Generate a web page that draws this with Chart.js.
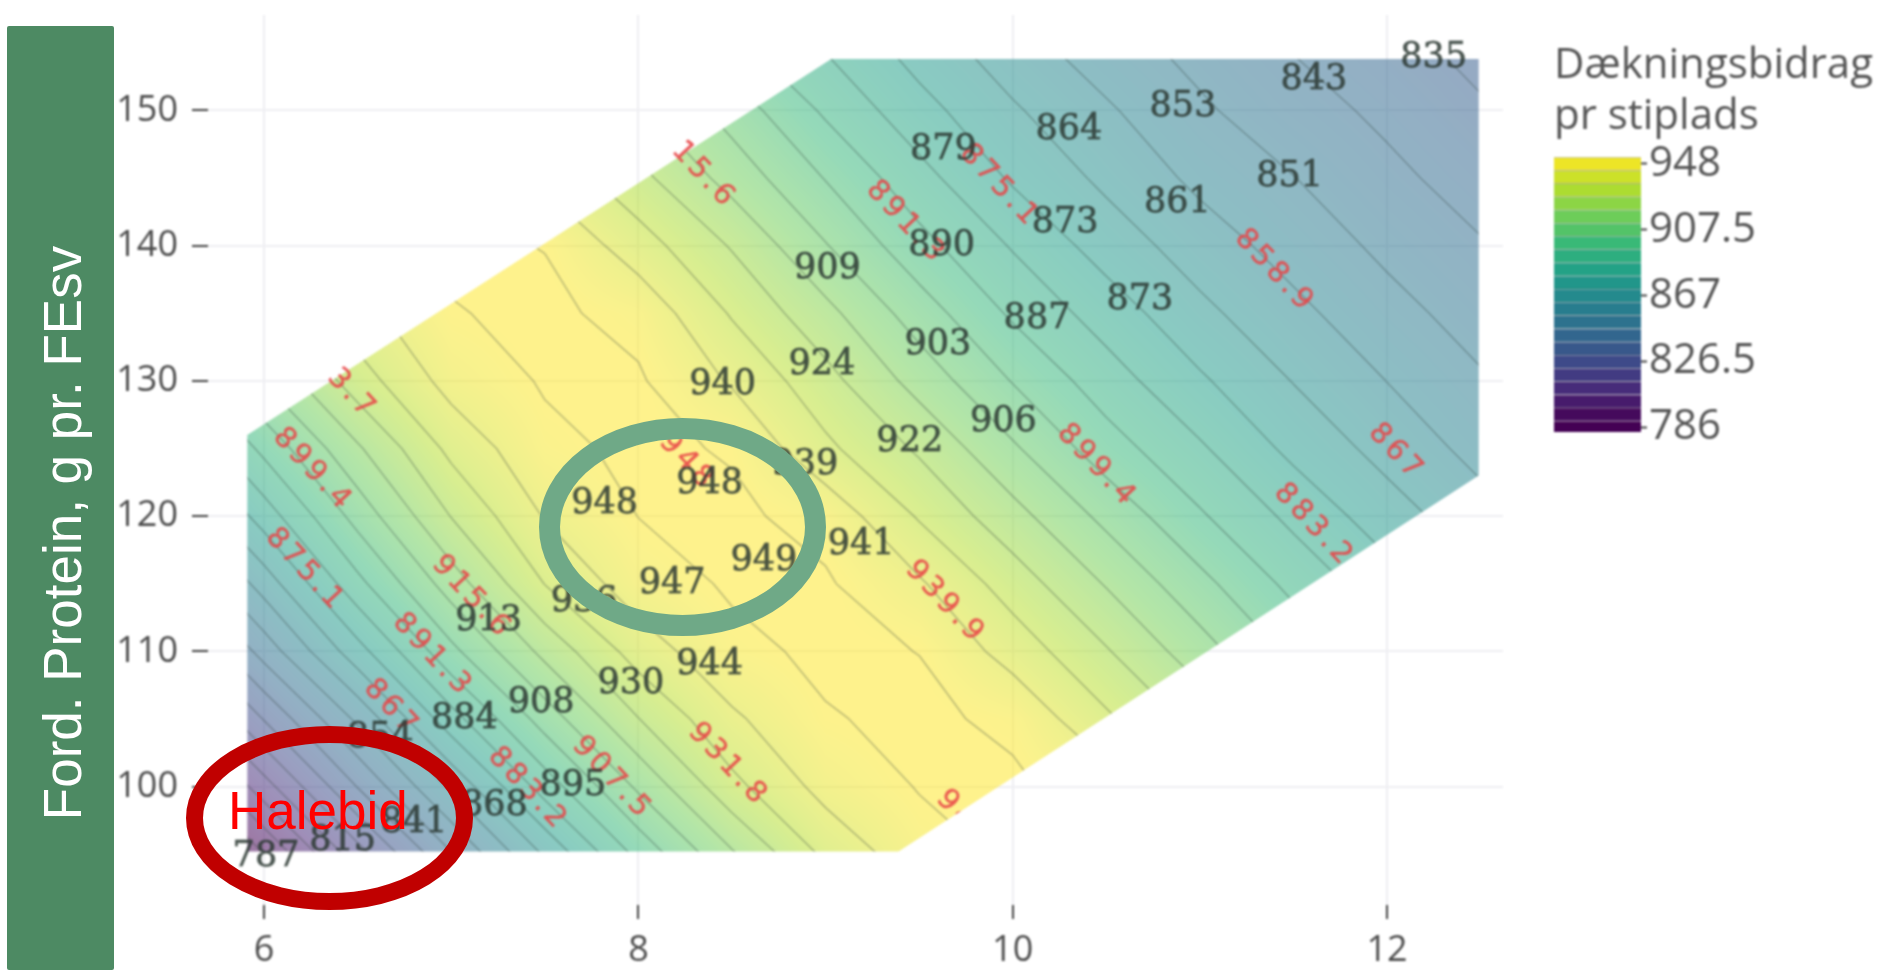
<!DOCTYPE html>
<html>
<head>
<meta charset="utf-8">
<title>Dækningsbidrag pr stiplads</title>
<script src="https://cdn.jsdelivr.net/npm/chart.js@4"></script>
<style>
  html, body { margin: 0; padding: 0; background: #fff; width: 1883px; height: 970px; overflow: hidden; }
  canvas { position: absolute; filter: blur(0.8px); }
  #mainWrap { position: absolute; left: 0; top: 0; width: 1883px; height: 970px; }
  #barWrap { position: absolute; left: 1550px; top: 0; width: 333px; height: 450px; }
  #sideBox { position: absolute; left: 7px; top: 26px; width: 107px; height: 944px; background: #4d8a63; border-radius: 2px; }
  #sideText { position: absolute; left: 62px; top: 533px; transform: translate(-50%, -50%) rotate(-90deg); white-space: nowrap;
    color: #fff; font: 53px "Liberation Sans", sans-serif; }
  #rings { position: absolute; left: 0; top: 0; }
  #halebid { position: absolute; left: 228px; top: 781px; color: #ff0000; font: 53px/60px "Liberation Sans", sans-serif; }
</style>
</head>
<body>
<div id="mainWrap"><canvas id="mainChart"></canvas></div>
<div id="barWrap"><canvas id="barChart"></canvas></div>
<div id="sideBox"></div>
<div id="sideText">Ford. Protein, g pr. FEsv</div>
<svg id="rings" width="1883" height="970">
  <ellipse cx="682.5" cy="527" rx="133" ry="98.5" fill="none" stroke="#6fa987" stroke-width="21"/>
  <ellipse cx="329.5" cy="818" rx="135" ry="83.5" fill="none" stroke="#c00000" stroke-width="17"/>
</svg>
<div id="halebid">Halebid</div>

<script>
// Akser
const xTicks = [6, 8, 10, 12];
const yTicks = [100, 110, 120, 130, 140, 150];
const barTicks = [786, 826.5, 867, 907.5, 948];

// Niveauer for konturlinjer
const levels = [786, 794.1, 802.2, 810.3, 818.4, 826.5, 834.6, 842.7, 850.8, 858.9, 867,
  875.1, 883.2, 891.3, 899.4, 907.5, 915.6, 923.7, 931.8, 939.9, 948];

// Omrids af det farvede felt
const hullX = [5.91, 9.03, 12.49, 12.49, 9.39, 5.91];
const hullY = [126.0, 153.8, 153.8, 123.0, 95.2, 95.2];

// Aflaest gitter: kolonner, raekker og vaerdier
const gridX = [5.5, 6, 6.5, 7, 7.5, 8, 8.5, 9, 9.5, 10, 10.5, 11, 11.5, 12, 12.5];
const gridY = [155, 150, 145, 140, 135, 130, 125, 120, 115, 110, 105, 100, 95];
const gridZ = [
  [948.2, 949.4, 945, 930.5, 919, 906, 893, 882, 871, 862, 854, 848, 842, 837, 832],
  [944.5, 949, 948.8, 940, 928, 917, 904, 890, 878, 868, 860, 852, 846, 841, 835.5],
  [933.6, 945.7, 949.2, 948.4, 938, 926, 912.5, 899, 886, 874, 865.2, 857, 851, 844.6, 839.3],
  [918, 935.5, 946.2, 949.4, 947.8, 935.5, 923, 908, 894, 882.5, 871.5, 863, 855.7, 849, 843.3],
  [902.5, 923, 937, 947.6, 949.5, 945.7, 931, 918, 903.5, 890, 879.5, 869, 861, 853.6, 847.4],
  [886, 908, 928, 943, 948.7, 948.9, 939, 926.5, 912.5, 899, 887, 876.3, 866.7, 858.8, 851.7],
  [871, 893.5, 914.5, 934, 946.2, 949.5, 947.4, 933.5, 922.5, 908.7, 895, 884.3, 873, 864.2, 856.3],
  [854.5, 879, 902.5, 924, 940.5, 948.1, 949.4, 945.5, 931, 918.5, 905.3, 892.3, 881.2, 870.7, 862],
  [838, 862.5, 889, 911.5, 932, 944.4, 948.9, 948.9, 941, 928, 915, 901.8, 889, 878.4, 868],
  [819, 846, 872, 897.3, 918, 935.5, 946.2, 949.4, 947.9, 936.6, 924.4, 911, 897.5, 886, 875],
  [799, 827, 852.5, 880, 903, 923.5, 938.5, 947.5, 949.5, 946.5, 933.2, 921, 907.5, 894, 883],
  [778, 807, 835, 860.5, 887, 909, 929.5, 942.8, 948.4, 949.3, 944, 930, 917, 903.8, 890.8],
  [757, 786, 815, 842, 868, 893.5, 914.5, 933.5, 945, 949.2, 948.6, 939, 927, 913.5, 899.5]
];

// Datapunkter med vaerdi
const pointX = [12.25, 11.61, 10.91, 10.30, 9.63, 11.48, 10.88, 10.28, 9.62, 9.01, 10.68, 10.13, 9.60, 8.98, 8.45,
  9.95, 9.45, 8.89, 8.38, 7.82, 9.19, 8.67, 8.18, 7.71, 7.20, 8.38, 7.96, 7.48, 7.07, 6.62, 7.65, 7.23, 6.80, 6.42, 6.01];
const pointY = [154.1, 152.5, 150.5, 148.8, 147.3, 145.3, 143.4, 141.9, 140.2, 138.5, 136.2, 134.8, 132.9, 131.4, 129.9,
  127.2, 125.7, 124.0, 122.6, 121.1, 118.1, 116.9, 115.2, 113.9, 112.5, 109.2, 107.8, 106.4, 105.2, 103.8, 100.3, 98.8, 97.5, 96.2, 95.0];
const pointValue = [835, 843, 853, 864, 879, 851, 861, 873, 890, 909, 873, 887, 903, 924, 940,
  906, 922, 939, 948, 948, 941, 949, 947, 936, 913, 944, 930, 908, 884, 854, 895, 868, 841, 815, 787];

// Roede niveau-etiketter
const levelText = ['15.6', '3.7', '899.4', '875.1', '915.6', '891.3', '867', '883.2', '907.5', '931.8',
  '948', '939.9', '948', '899.4', '891.3', '875.1', '858.9', '883.2', '867'];
const levelX = [8.35, 6.47, 6.26, 6.22, 7.11, 6.90, 6.68, 7.41, 7.86, 8.48, 9.74, 9.64, 8.26, 10.45, 9.43, 9.93, 11.40, 11.61, 12.05];
const levelY = [145.2, 129.0, 123.4, 116.0, 114.0, 109.7, 105.8, 99.8, 100.6, 101.6, 97.6, 113.6, 124.0, 123.7, 141.7, 144.4, 138.1, 119.3, 124.7];
// Denne etiket skaeres af ved feltets kant
const cutLabel = 10;

const viridis = [[68,1,84],[72,40,120],[62,73,137],[49,104,142],[38,130,142],[31,158,137],[53,183,121],[110,206,88],[181,222,43],[253,231,37]];

function viridisAt(z) {
  const t = Math.min(1, Math.max(0, (z - 786) / (948 - 786))) * (viridis.length - 1);
  const i = Math.min(viridis.length - 2, Math.floor(t));
  const f = t - i;
  return viridis[i].map((c, k) => c + (viridis[i + 1][k] - c) * f);
}

// Vaerdi i et punkt, laest direkte af gitteret
function zAt(x, y) {
  let i = 0, j = 0;
  while (i < gridX.length - 2 && x > gridX[i + 1]) i++;
  while (j < gridY.length - 2 && y < gridY[j + 1]) j++;
  const fx = (x - gridX[i]) / (gridX[i + 1] - gridX[i]);
  const fy = (y - gridY[j]) / (gridY[j + 1] - gridY[j]);
  const top = gridZ[j][i] * (1 - fx) + gridZ[j][i + 1] * fx;
  const bot = gridZ[j + 1][i] * (1 - fx) + gridZ[j + 1][i + 1] * fx;
  return top * (1 - fy) + bot * fy;
}

// Konturlinje for et niveau, celle for celle gennem gitteret
function contourPoints(level) {
  const out = [];
  for (let j = 0; j < gridY.length - 1; j++) {
    for (let i = 0; i < gridX.length - 1; i++) {
      const corners = [
        [gridX[i], gridY[j], gridZ[j][i]],
        [gridX[i + 1], gridY[j], gridZ[j][i + 1]],
        [gridX[i + 1], gridY[j + 1], gridZ[j + 1][i + 1]],
        [gridX[i], gridY[j + 1], gridZ[j + 1][i]]
      ];
      const hits = [];
      for (let k = 0; k < 4; k++) {
        const a = corners[k], b = corners[(k + 1) % 4];
        if ((a[2] >= level) !== (b[2] >= level)) {
          const f = (level - a[2]) / (b[2] - a[2]);
          hits.push({ x: a[0] + (b[0] - a[0]) * f, y: a[1] + (b[1] - a[1]) * f });
        }
      }
      for (let k = 0; k + 1 < hits.length; k += 2) {
        out.push(hits[k], hits[k + 1], { x: NaN, y: NaN });
      }
    }
  }
  return out;
}

function hullPath(ctx, chart) {
  ctx.beginPath();
  hullX.forEach((x, i) => {
    const px = chart.scales.x.getPixelForValue(x);
    const py = chart.scales.y.getPixelForValue(hullY[i]);
    if (i === 0) ctx.moveTo(px, py); else ctx.lineTo(px, py);
  });
  ctx.closePath();
}

let fieldImage = null;

function buildField(chart) {
  const area = chart.chartArea;
  const w = Math.ceil(area.right - area.left), h = Math.ceil(area.bottom - area.top);
  const off = document.createElement('canvas');
  off.width = w;
  off.height = h;
  const octx = off.getContext('2d');
  const img = octx.createImageData(w, h);
  for (let py = 0; py < h; py++) {
    const y = chart.scales.y.getValueForPixel(area.top + py + 0.5);
    for (let px = 0; px < w; px++) {
      const x = chart.scales.x.getValueForPixel(area.left + px + 0.5);
      const c = viridisAt(zAt(x, y));
      const p = (py * w + px) * 4;
      img.data[p] = c[0];
      img.data[p + 1] = c[1];
      img.data[p + 2] = c[2];
      img.data[p + 3] = 134;
    }
  }
  octx.putImageData(img, 0, 0);
  return off;
}

// Farvefelt under linjerne, og linjerne klippes til feltets omrids
const fieldPlugin = {
  id: 'fieldPlugin',
  beforeDatasetsDraw(chart) {
    const ctx = chart.ctx;
    if (!fieldImage) fieldImage = buildField(chart);
    ctx.save();
    hullPath(ctx, chart);
    ctx.clip();
    ctx.drawImage(fieldImage, chart.chartArea.left, chart.chartArea.top);
  },
  afterDatasetsDraw(chart) {
    chart.ctx.restore();
  }
};

// Etiketter: roede niveauer foerst, saa datapunkternes vaerdier
const labelPlugin = {
  id: 'labelPlugin',
  afterDraw(chart) {
    const ctx = chart.ctx;
    const sx = chart.scales.x, sy = chart.scales.y;
    ctx.save();
    ctx.textAlign = 'center';
    ctx.textBaseline = 'middle';
    ctx.font = '29px "DejaVu Sans"';
    ctx.letterSpacing = '4px';
    ctx.fillStyle = 'rgba(232,70,72,0.88)';
    ctx.strokeStyle = 'rgba(232,70,72,0.5)';
    ctx.lineWidth = 0.7;
    levelText.forEach((t, i) => {
      ctx.save();
      if (i === cutLabel) {
        hullPath(ctx, chart);
        ctx.clip();
      }
      ctx.translate(sx.getPixelForValue(levelX[i]), sy.getPixelForValue(levelY[i]));
      ctx.rotate(47 * Math.PI / 180);
      ctx.fillText(t, 0, 0);
      ctx.strokeText(t, 0, 0);
      ctx.restore();
    });
    ctx.letterSpacing = '0px';
    ctx.font = '35px "DejaVu Serif"';
    ctx.fillStyle = 'rgba(45,58,52,0.85)';
    ctx.strokeStyle = 'rgba(45,58,52,0.6)';
    ctx.lineWidth = 0.9;
    pointValue.forEach((v, i) => {
      const px = sx.getPixelForValue(pointX[i]), py = sy.getPixelForValue(pointY[i]) + 3;
      ctx.fillText(String(v), px, py);
      ctx.strokeText(String(v), px, py);
    });
    ctx.restore();
  }
};

const lineSets = levels.map(level => ({
  label: String(level),
  data: contourPoints(level),
  showLine: true,
  spanGaps: false,
  pointRadius: 0,
  borderWidth: 1.5,
  borderColor: 'rgba(50,65,60,0.33)',
  tension: 0
}));

const pointSet = {
  label: 'Dækningsbidrag',
  data: pointX.map((x, i) => ({ x: x, y: pointY[i] })),
  showLine: false,
  pointRadius: 0
};

const mainChart = new Chart(document.getElementById('mainChart'), {
  type: 'scatter',
  data: { datasets: lineSets.concat([pointSet]) },
  plugins: [fieldPlugin, labelPlugin],
  options: {
    responsive: true,
    maintainAspectRatio: false,
    animation: false,
    layout: { padding: { left: 0, top: 15, right: 380, bottom: 0 } },
    plugins: { legend: { display: false }, tooltip: { enabled: false } },
    scales: {
      x: {
        type: 'linear',
        min: 5.70,
        max: 12.62,
        afterBuildTicks: axis => { axis.ticks = xTicks.map(v => ({ value: v })); },
        afterFit: axis => { axis.height = 65; axis.paddingLeft = 0; axis.paddingRight = 0; },
        border: { display: false },
        grid: { color: '#eeeef2', lineWidth: 2, tickColor: '#444', tickLength: 14, tickWidth: 2 },
        ticks: { color: '#4c4c4c', font: { family: '"Open Sans"', size: 36 }, padding: 10, maxRotation: 0 }
      },
      y: {
        type: 'linear',
        min: 91.24,
        max: 157.06,
        afterBuildTicks: axis => { axis.ticks = yTicks.map(v => ({ value: v })); },
        afterFit: axis => { axis.width = 208; axis.paddingTop = 0; axis.paddingBottom = 0; },
        border: { display: false },
        grid: { color: '#eeeef2', lineWidth: 2, tickColor: '#444', tickLength: 16, tickWidth: 2 },
        ticks: { color: '#4c4c4c', font: { family: '"Open Sans"', size: 36 }, padding: 14 }
      }
    }
  }
});

// Farveskala til hoejre
const barSets = levels.map(level => {
  const c = viridisAt(level - 4.05).map(Math.round);
  return {
    data: [[level - 4.05, level + 4.05]],
    backgroundColor: 'rgb(' + c.join(',') + ')',
    borderColor: 'rgba(40,40,40,0.3)',
    borderWidth: { top: 1, bottom: 0, left: 0, right: 0 },
    borderSkipped: false,
    grouped: false,
    barPercentage: 1,
    categoryPercentage: 1
  };
});

const barChart = new Chart(document.getElementById('barChart'), {
  type: 'bar',
  data: { labels: [''], datasets: barSets },
  options: {
    responsive: true,
    maintainAspectRatio: false,
    animation: false,
    layout: { padding: { left: 4, right: 0, top: 0, bottom: 18 } },
    plugins: {
      legend: { display: false },
      tooltip: { enabled: false },
      title: {
        display: true,
        text: ['Dækningsbidrag', 'pr stiplads'],
        align: 'start',
        color: '#555',
        font: { family: '"Open Sans"', size: 42, weight: 'normal', lineHeight: 1.2 },
        padding: { top: 41, bottom: 15 }
      }
    },
    scales: {
      x: { display: false },
      y: {
        position: 'right',
        min: 783.2,
        max: 952.2,
        afterBuildTicks: axis => { axis.ticks = barTicks.map(v => ({ value: v })); },
        afterFit: axis => { axis.width = 242; axis.paddingTop = 0; axis.paddingBottom = 0; },
        border: { display: false },
        grid: { drawOnChartArea: false, tickColor: '#444', tickLength: 6, tickWidth: 2 },
        ticks: { color: '#555', font: { family: '"Open Sans"', size: 42 }, padding: 2 }
      }
    }
  }
});
</script>
</body>
</html>
